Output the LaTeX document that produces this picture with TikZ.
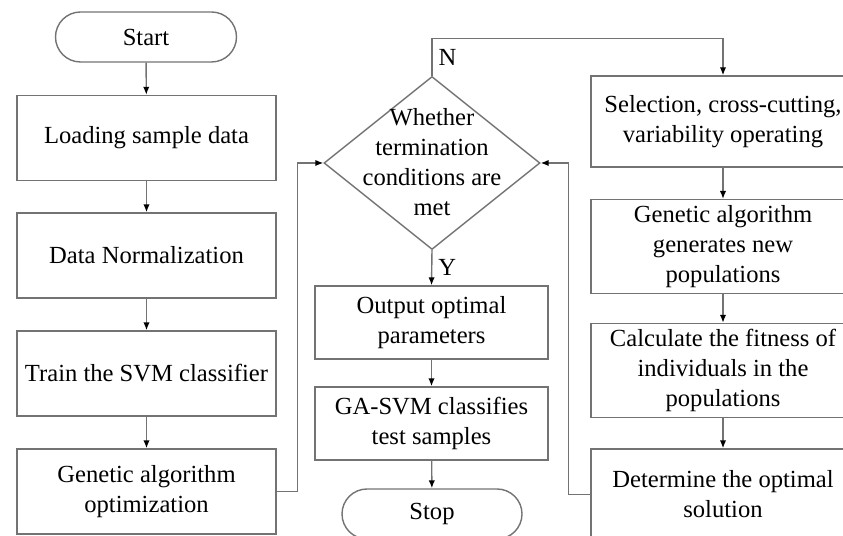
\documentclass[tikz,border=0pt]{standalone}
\usepackage{fontspec}
\setmainfont{Liberation Serif}
\usetikzlibrary{shapes.geometric, arrows.meta}
\begin{document}
\begin{tikzpicture}[font=\fontsize{14}{17}\selectfont]
\tikzset{boite/.style={draw=black!55, line width=0.8pt, rectangle, minimum width=5.18cm, minimum height=1.7cm, align=center},
terminal/.style={boite, rounded corners=0.5cm, minimum width=3.62cm, minimum height=1cm},
decision/.style={draw=black!55, line width=0.8pt, diamond, minimum width=4.32cm, minimum height=3.46cm, inner sep=0pt},
fleche/.style={draw=black!55, line width=0.8pt, -{Latex[length=4.5pt, width=3.6pt, black]}}}
\clip (0,0) rectangle (16.86,10.72);
\node[terminal] (start) at (2.92,9.98) {Start};
\node[boite] (load) at (2.93,7.96) {Loading sample data};
\node[boite] (norm) at (2.93,5.61) {Data Normalization};
\node[boite] (train) at (2.93,3.25) {Train the SVM classifier};
\node[boite] (gaopt) at (2.93,0.89) {Genetic algorithm\\optimization};
\node[decision] (cond) at (8.64,7.46) {};
\node[align=center] (condtxt) at (8.64,7.48) {Whether\\termination\\conditions are\\met};
\node[boite, minimum width=4.66cm, minimum height=1.46cm] (out) at (8.63,4.27) {Output optimal\\parameters};
\node[boite, minimum width=4.66cm, minimum height=1.46cm] (test) at (8.63,2.25) {GA-SVM classifies\\test samples};
\node[terminal, minimum width=3.6cm] (stop) at (8.64,0.44) {Stop};
\node[boite, minimum width=5.28cm, minimum height=1.82cm] (sel) at (14.46,8.29) {Selection, cross-cutting,\\variability operating};
\node[boite, minimum width=5.28cm, minimum height=1.86cm] (gen) at (14.46,5.79) {Genetic algorithm\\generates new\\populations};
\node[boite, minimum width=5.28cm, minimum height=1.82cm] (calc) at (14.46,3.31) {Calculate the fitness of\\individuals in the\\populations};
\node[boite, minimum width=5.28cm, minimum height=1.82cm] (det) at (14.46,0.83) {Determine the optimal\\solution};
\draw[fleche] (start) -- (load);
\draw[fleche] (load) -- (norm);
\draw[fleche] (norm) -- (train);
\draw[fleche] (train) -- (gaopt);
\draw[fleche] (gaopt.east) -- ++(0.42,0) |- (cond.west);
\draw[fleche] (cond.north) -- node[right] (n) {N} ++(0,0.74) -| (sel.north);
\draw[fleche] (cond.south) -- node[right] (y) {Y} (out.north);
\draw[fleche] (out) -- (test);
\draw[fleche] (test) -- (stop);
\draw[fleche] (sel) -- (gen);
\draw[fleche] (gen) -- (calc);
\draw[fleche] (calc) -- (det);
\draw[fleche] (det.west) -- ++(-0.44,0) |- (cond.east);
\end{tikzpicture}
\end{document}
